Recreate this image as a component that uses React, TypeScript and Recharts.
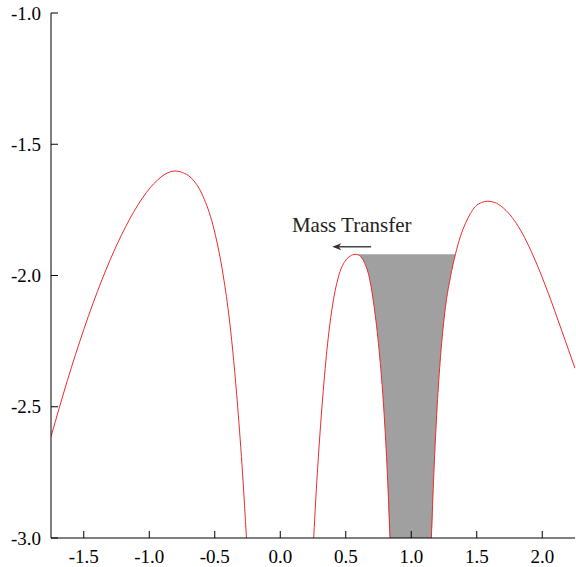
import React from "react";
import { ComposedChart, Line, Area, XAxis, YAxis, ReferenceLine } from "recharts";

const xTicks = [-1.5, -1.0, -0.5, 0.0, 0.5, 1.0, 1.5, 2.0];
const yTicks = [-3.0, -2.5, -2.0, -1.5, -1.0];

// potential curve in its three visible pieces [x, phi]
const outerLeft: [number, number][] = [
  [-1.75, -2.614], [-1.625, -2.4], [-1.5, -2.206], [-1.43, -2.107], [-1.36, -2.015],
  [-1.24, -1.875], [-1.12, -1.759], [-1.055, -1.707], [-0.99, -1.664], [-0.94, -1.638],
  [-0.895, -1.619], [-0.85, -1.607], [-0.803, -1.602], [-0.745, -1.608], [-0.689, -1.624],
  [-0.588, -1.7], [-0.514, -1.808], [-0.436, -1.998], [-0.386, -2.177], [-0.325, -2.5],
  [-0.287, -2.76], [-0.258, -3.0],
];

const innerLobe: [number, number][] = [
  [0.2553, -3.0], [0.272, -2.845], [0.2857, -2.732], [0.3024, -2.608], [0.3237, -2.467],
  [0.3617, -2.258], [0.3997, -2.112], [0.4506, -1.994], [0.5015, -1.941], [0.5342, -1.926],
  [0.5722, -1.919], [0.6064, -1.924], [0.6406, -1.949], [0.6786, -2.005], [0.7165, -2.119],
  [0.7546, -2.284], [0.7926, -2.525], [0.8176, -2.754], [0.8381, -3.0],
];

const outerRight: [number, number][] = [
  [1.1535, -3.0], [1.1725, -2.754], [1.1976, -2.5], [1.2234, -2.309], [1.2614, -2.119],
  [1.2994, -2.005], [1.3374, -1.919], [1.3754, -1.851], [1.4134, -1.802], [1.4514, -1.764],
  [1.4894, -1.737], [1.5372, -1.722], [1.5851, -1.717], [1.6383, -1.722], [1.6915, -1.738],
  [1.8184, -1.814], [1.9453, -1.941], [2.0463, -2.068], [2.1474, -2.208], [2.25, -2.354],
];

// shaded well: from the L1 peak over to where the right lobe climbs back to the same level
const lobePeakX = 0.5722;
const fillLevel = -1.919;
const fillEndX = 1.3374;

// annotation
const arrowFrom = 0.694;
const arrowTo = 0.397;
const arrowY = -1.89;

const toPoints = (rows: [number, number][]) => rows.map(([x, y]) => ({ x, y }));

const wellData = [
  ...innerLobe.filter(([x]) => x >= lobePeakX),
  ...outerRight.filter(([x]) => x <= fillEndX),
].map(([x, y]) => ({ x, range: [y, fillLevel] }));

const FONT = "'Liberation Serif', 'Times New Roman', Times, serif";
const RED = "#ee2a2a";

const ArrowShape = (props: any) => {
  const { x1, y1, x2, y2 } = props;
  return (
    <g>
      <text
        x={(x1 + x2) / 2}
        y={y1 - 15}
        textAnchor="middle"
        fontFamily={FONT}
        fontSize={21}
        fill="#222"
      >
        Mass Transfer
      </text>
      <line x1={x1} y1={y1} x2={x2 + 6} y2={y2} stroke="#444" strokeWidth={1.5} />
      <polygon
        points={`${x2},${y2} ${x2 + 9},${y2 - 3.5} ${x2 + 6.5},${y2} ${x2 + 9},${y2 + 3.5}`}
        fill="#333"
      />
    </g>
  );
};

const fmt = (v: number) => v.toFixed(1);

const XTick = ({ x, y, payload }: any) => (
  <text x={x} y={y} dy="0.71em" textAnchor="middle" fontFamily={FONT} fontSize={19} fill="#000">
    {fmt(payload.value)}
  </text>
);

const YTick = ({ x, y, payload }: any) => (
  <text x={x} y={y} dy="0.355em" textAnchor="end" fontFamily={FONT} fontSize={19} fill="#000">
    {fmt(payload.value)}
  </text>
);

export default function App() {
  return (
    <div
      style={{
        position: "absolute",
        left: 0,
        top: 0,
        width: 576,
        height: 567,
        background: "#fff",
        fontFamily: FONT,
      }}
    >
      <ComposedChart
        width={576}
        height={567}
        margin={{ top: 13, right: 1, bottom: 0, left: 0 }}
        style={{ fontFamily: FONT }}
      >
        <XAxis
          dataKey="x"
          type="number"
          domain={[-1.75, 2.25]}
          ticks={xTicks}
          allowDataOverflow
          height={29}
          tickSize={-7}
          tickMargin={19}
          interval={0}
          stroke="#000"
          tick={<XTick />}
        />
        <XAxis
          xAxisId="top"
          orientation="top"
          dataKey="x"
          type="number"
          domain={[-1.75, 2.25]}
          ticks={xTicks}
          allowDataOverflow
          height={0}
          tickSize={-7}
          tick={false}
          stroke="#000"
        />
        <YAxis
          type="number"
          domain={[-3, -1]}
          ticks={yTicks}
          allowDataOverflow
          width={51}
          tickSize={-7}
          tickMargin={17}
          interval={0}
          stroke="#000"
          tick={<YTick />}
        />
        <YAxis
          yAxisId="right"
          orientation="right"
          type="number"
          domain={[-3, -1]}
          ticks={yTicks}
          allowDataOverflow
          width={0}
          tickSize={-7}
          tick={false}
          stroke="#000"
        />
        <Area
          data={wellData}
          dataKey="range"
          type="monotone"
          fill="#a0a0a0"
          fillOpacity={1}
          stroke="none"
          isAnimationActive={false}
        />
        <Line data={toPoints(outerLeft)} dataKey="y" type="monotone" stroke={RED} strokeWidth={1} dot={false} activeDot={false} isAnimationActive={false} />
        <Line data={toPoints(innerLobe)} dataKey="y" type="monotone" stroke={RED} strokeWidth={1} dot={false} activeDot={false} isAnimationActive={false} />
        <Line data={toPoints(outerRight)} dataKey="y" type="monotone" stroke={RED} strokeWidth={1} dot={false} activeDot={false} isAnimationActive={false} />
        <ReferenceLine
          segment={[{ x: arrowFrom, y: arrowY }, { x: arrowTo, y: arrowY }]}
          ifOverflow="visible"
          shape={ArrowShape}
        />
      </ComposedChart>
    </div>
  );
}
